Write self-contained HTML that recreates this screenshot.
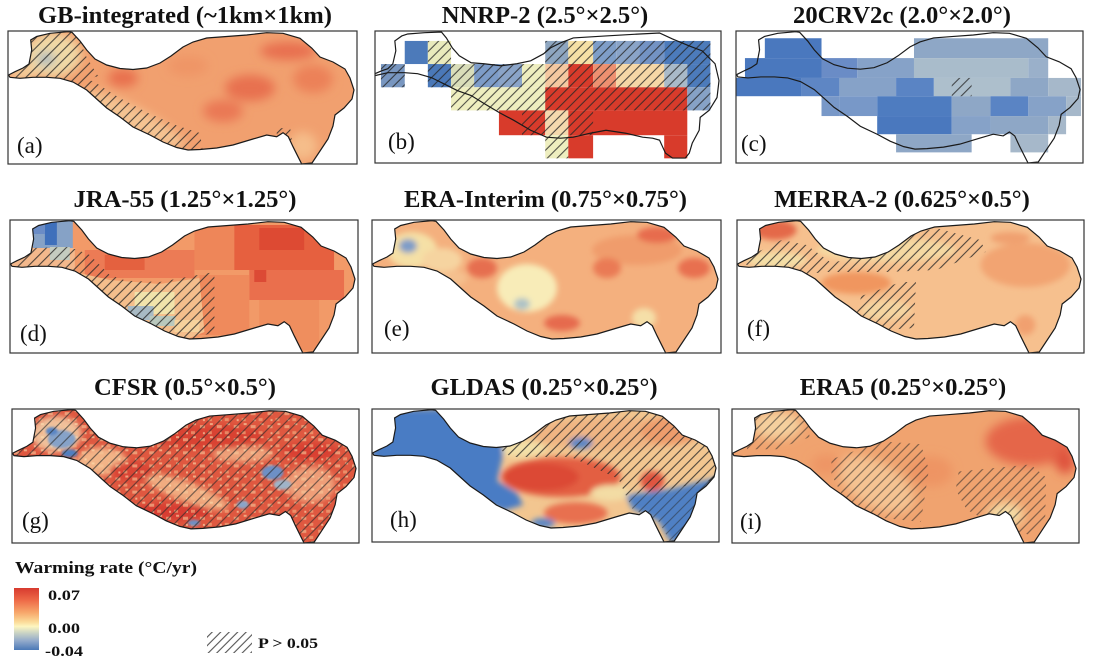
<!DOCTYPE html>
<html><head><meta charset="utf-8">
<style>html,body{margin:0;padding:0;background:#fff;}svg{display:block;}</style>
</head><body>
<svg width="1093" height="666" viewBox="0 0 1093 666" xmlns="http://www.w3.org/2000/svg" xmlns:xlink="http://www.w3.org/1999/xlink">
<defs>
<path id="tp" d="M0.5,44 L7,40.7 L15,37 L21,33 L23.7,19 L22.7,9 L28.7,5.5 L42,2.3 L60,0.7 L64,1.3 L72,10 L78.7,19 L87,28 L98.7,34 L112,37.5 L125,38.5 L138.7,37 L152,32 L163,25 L175,16 L185,11 L198.7,7 L218.7,5.5 L238.7,4 L258.7,1.7 L275,2.3 L292,7.3 L303.7,17 L312,26 L325,31 L337,38 L342,47 L346,59 L344,68 L336,77 L327,84 L325,95 L320,108 L312,120 L304,132 L293.7,133 L290,125.7 L285,115.7 L280.3,105.7 L275,101.7 L268.7,105.7 L258.7,104 L245,108 L225,114 L208.7,117 L192,118.5 L180,119 L168.7,116.5 L155,111 L142,104 L125,96 L112,86 L98.7,77 L88.7,68 L78.7,59 L65,51 L52,47.3 L38.7,46.3 L25,46.3 L12,47.3 L2,46.3 Z"/>
<path id="tpb" d="M0,43 L7,40 L13,38 L18,33 L21,20 L20,10 L27,5 L33,3 L50,1.7 L67,1 L72,7 L78,17 L85,25 L97,32 L110,33 L127,35 L143,33 L157,30 L170,23 L177,17 L187,12 L200,7 L233,5 L267,3 L287,2 L300,8 L317,15 L330,20 L337,27 L343,33 L347,50 L345,67 L337,80 L328,87 L327,100 L320,113 L317,123 L313,128 L300,128 L293,123 L287,110 L280,108 L270,107 L253,103 L233,100 L217,103 L200,107 L187,108 L173,107 L157,100 L140,90 L125,82 L110,73 L97,65 L83,60 L73,55 L57,47 L43,43 L30,42 L13,42 L0,45 Z"/>
<clipPath id="cl"><use href="#tp" xlink:href="#tp"/></clipPath>
<clipPath id="boxc"><rect x="0" y="0" width="349" height="133"/></clipPath>
<pattern id="hatch" patternUnits="userSpaceOnUse" width="7" height="7" patternTransform="rotate(45)">
<line x1="3.5" y1="0" x2="3.5" y2="7" stroke="#262626" stroke-width="1.1" stroke-opacity="0.8"/>
</pattern>
<pattern id="hatchG" patternUnits="userSpaceOnUse" width="8" height="8" patternTransform="rotate(45)">
<line x1="4" y1="0" x2="4" y2="8" stroke="#2a2a2a" stroke-width="1" stroke-opacity="0.75"/>
</pattern>
<pattern id="hatchL" patternUnits="userSpaceOnUse" width="6" height="6" patternTransform="rotate(45)">
<line x1="3" y1="0" x2="3" y2="6" stroke="#555" stroke-width="1.1"/>
</pattern>
<pattern id="spk" patternUnits="userSpaceOnUse" width="17" height="13">
<rect x="2" y="3" width="5" height="3" fill="#f6c89a"/>
<rect x="10" y="9" width="4" height="3" fill="#f3b585"/>
<rect x="12" y="1" width="3" height="2" fill="#fbe0b0"/>
<rect x="5" y="10" width="2" height="2" fill="#fbe6b8"/>
</pattern>
<filter id="bl" x="-30%" y="-30%" width="160%" height="160%"><feGaussianBlur stdDeviation="5"/></filter>
<filter id="bl3" x="-30%" y="-30%" width="160%" height="160%"><feGaussianBlur stdDeviation="3"/></filter>
<filter id="bl1" x="-30%" y="-30%" width="160%" height="160%"><feGaussianBlur stdDeviation="1.2"/></filter>
<linearGradient id="cb" x1="0" y1="0" x2="0" y2="1">
<stop offset="0" stop-color="#d73a2f"/>
<stop offset="0.2" stop-color="#ee6a48"/>
<stop offset="0.4" stop-color="#f7a86c"/>
<stop offset="0.55" stop-color="#fbdc9a"/>
<stop offset="0.62" stop-color="#fdf6c0"/>
<stop offset="0.72" stop-color="#ccd5c4"/>
<stop offset="0.85" stop-color="#93abcb"/>
<stop offset="1" stop-color="#4b79b7"/>
</linearGradient>
</defs>

<rect x="0" y="0" width="1093" height="666" fill="#fff"/>

<!-- Titles -->
<g font-family="'Liberation Serif', serif" font-weight="bold" font-size="24.6" text-anchor="middle" fill="#111">
<text x="185" y="23">GB-integrated (~1km×1km)</text>
<text x="545" y="23">NNRP-2 (2.5°×2.5°)</text>
<text x="902" y="23">20CRV2c (2.0°×2.0°)</text>
<text x="185" y="207">JRA-55 (1.25°×1.25°)</text>
<text x="545.5" y="207">ERA-Interim (0.75°×0.75°)</text>
<text x="902" y="207">MERRA-2 (0.625°×0.5°)</text>
<text x="185" y="395">CFSR (0.5°×0.5°)</text>
<text x="544" y="395">GLDAS (0.25°×0.25°)</text>
<text x="903" y="395">ERA5 (0.25°×0.25°)</text>
</g>

<!-- Panel a -->
<g transform="translate(8,31)">
<g clip-path="url(#cl)">
<rect x="0" y="0" width="349" height="133" fill="#f1a06f"/>
<g filter="url(#bl)">
<ellipse cx="45" cy="24" rx="28" ry="22" fill="#f0d9a6"/>
<ellipse cx="15" cy="42" rx="14" ry="6" fill="#f3d3a0"/>
<ellipse cx="38" cy="28" rx="9" ry="7" fill="#a9b9bf"/>
<ellipse cx="125" cy="88" rx="58" ry="12" transform="rotate(28 125 88)" fill="#f5c493"/>
<ellipse cx="115" cy="47" rx="15" ry="9" fill="#e8704e"/>
<ellipse cx="242" cy="57" rx="25" ry="13" fill="#e8714f"/>
<ellipse cx="215" cy="80" rx="20" ry="11" fill="#ea7854"/>
<ellipse cx="280" cy="20" rx="28" ry="9" fill="#e86f4f"/>
<ellipse cx="305" cy="48" rx="20" ry="14" fill="#ec8158"/>
<ellipse cx="180" cy="35" rx="20" ry="10" fill="#ef9566"/>
<ellipse cx="295" cy="115" rx="14" ry="14" fill="#f5bd8a"/>
</g>
<path d="M0,48 L0,40 L20,30 L22,0 L68,0 L78,25 L90,45 L70,52 L40,50 Z M62,48 L85,50 L110,66 L140,82 L170,95 L192,102 L195,122 L150,118 L100,88 L70,62 Z M268,98 L282,96 L284,110 L270,110 Z" fill="url(#hatch)"/>
</g>
<use href="#tp" xlink:href="#tp" fill="none" stroke="#1a1a1a" stroke-width="1.2"/>
</g>

<!-- Panel b -->
<g transform="translate(375,31) scale(0.9914,0.9925)">
<g clip-path="url(#boxc)">
<rect x="30" y="10" width="23.3" height="23.3" fill="#4c7aba"/>
<rect x="53.3" y="10" width="23.4" height="23.3" fill="#e9eabc"/>
<rect x="171.7" y="10" width="23.3" height="23.3" fill="#8ea6c0"/>
<rect x="195" y="10" width="25" height="23.3" fill="#f5e0a5"/>
<rect x="220" y="10" width="23.3" height="23.3" fill="#7f9ec8"/>
<rect x="243.3" y="10" width="23.4" height="23.3" fill="#8aa4c8"/>
<rect x="266.7" y="10" width="25" height="23.3" fill="#7393c4"/>
<rect x="291.7" y="10" width="46.6" height="23.3" fill="#4c7bbb"/>
<rect x="6" y="33.3" width="24" height="23.4" fill="#7896c0"/>
<rect x="53.3" y="33.3" width="23.4" height="23.4" fill="#4a78b8"/>
<rect x="76.7" y="33.3" width="23.3" height="23.4" fill="#d9ddb9"/>
<rect x="100" y="33.3" width="25" height="23.4" fill="#7d9cc8"/>
<rect x="125" y="33.3" width="23.3" height="23.4" fill="#8aa4c8"/>
<rect x="148.3" y="33.3" width="23.4" height="23.4" fill="#eeeebf"/>
<rect x="171.7" y="33.3" width="23.3" height="23.4" fill="#f5c8a0"/>
<rect x="195" y="33.3" width="25" height="23.4" fill="#d83b2b"/>
<rect x="220" y="33.3" width="23.3" height="23.4" fill="#ee9070"/>
<rect x="243.3" y="33.3" width="48.4" height="23.4" fill="#f6d7a6"/>
<rect x="291.7" y="33.3" width="23.3" height="23.4" fill="#a9bac8"/>
<rect x="315" y="33.3" width="23.3" height="23.4" fill="#4c7bbb"/>
<rect x="76.7" y="56.7" width="95" height="23.3" fill="#eeeebf"/>
<rect x="171.7" y="56.7" width="143.3" height="23.3" fill="#d83b2b"/>
<rect x="315" y="56.7" width="23.3" height="23.3" fill="#86a2c6"/>
<rect x="125" y="80" width="46.7" height="25" fill="#d83b2b"/>
<rect x="171.7" y="80" width="23.3" height="25" fill="#f5d9ae"/>
<rect x="195" y="80" width="120" height="25" fill="#d83b2b"/>
<rect x="171.7" y="105" width="23.3" height="23.3" fill="#eeeebf"/>
<rect x="195" y="105" width="25" height="23.3" fill="#d83b2b"/>
<rect x="291.7" y="105" width="23.3" height="23.3" fill="#d83b2b"/>
<rect x="53.3" y="10" width="23.4" height="23.3" fill="url(#hatch)"/>
<rect x="171.7" y="10" width="166.6" height="23.3" fill="url(#hatch)"/>
<rect x="6" y="33.3" width="24" height="23.4" fill="url(#hatch)"/>
<rect x="53.3" y="33.3" width="285" height="23.4" fill="url(#hatch)"/>
<rect x="76.7" y="56.7" width="261.6" height="23.3" fill="url(#hatch)"/>
<rect x="148.3" y="80" width="71.7" height="25" fill="url(#hatch)"/>
<rect x="171.7" y="105" width="23.3" height="23.3" fill="url(#hatch)"/>
<use href="#tpb" xlink:href="#tpb" fill="none" stroke="#1a1a1a" stroke-width="1.2"/>
</g>
</g>

<!-- Panel c -->
<g transform="translate(736,31) scale(0.9943,0.9925)">
<g clip-path="url(#boxc)">
<rect x="29" y="7.3" width="57" height="20" fill="#4a78be"/>
<rect x="179" y="7.3" width="135" height="20" fill="#8ea7c6"/>
<rect x="9" y="27.3" width="77" height="20" fill="#4a78be"/>
<rect x="86" y="27.3" width="36" height="20" fill="#6a8cc6"/>
<rect x="122" y="27.3" width="57" height="20" fill="#86a2c8"/>
<rect x="179" y="27.3" width="115" height="20" fill="#a9bccb"/>
<rect x="294" y="27.3" width="20" height="20" fill="#9ab0ca"/>
<rect x="0" y="47.3" width="66" height="18.4" fill="#4a78be"/>
<rect x="66" y="47.3" width="38" height="18.4" fill="#5e86c4"/>
<rect x="104" y="47.3" width="57" height="18.4" fill="#86a2c8"/>
<rect x="161" y="47.3" width="38" height="18.4" fill="#5a84c4"/>
<rect x="199" y="47.3" width="77" height="18.4" fill="#adbfcc"/>
<rect x="276" y="47.3" width="38" height="18.4" fill="#8ea7c6"/>
<rect x="314" y="47.3" width="33" height="18.4" fill="#a6b8ca"/>
<rect x="86" y="65.7" width="18" height="20" fill="#7898c8"/>
<rect x="104" y="65.7" width="38" height="20" fill="#7898c8"/>
<rect x="142" y="65.7" width="75" height="20" fill="#4e7cc0"/>
<rect x="217" y="65.7" width="39" height="20" fill="#8ea7c6"/>
<rect x="256" y="65.7" width="38" height="20" fill="#5a84c4"/>
<rect x="294" y="65.7" width="38" height="20" fill="#86a2c8"/>
<rect x="332" y="65.7" width="15" height="20" fill="#a6b8ca"/>
<rect x="142" y="85.7" width="75" height="18.3" fill="#4a78be"/>
<rect x="217" y="85.7" width="39" height="18.3" fill="#86a2c8"/>
<rect x="256" y="85.7" width="58" height="18.3" fill="#8ea7c6"/>
<rect x="314" y="85.7" width="18" height="18.3" fill="#a6b8ca"/>
<rect x="161" y="104" width="76" height="18.3" fill="#8ea7c6"/>
<rect x="276" y="104" width="38" height="18.3" fill="#a6b8ca"/>
<rect x="217" y="47.3" width="20" height="18.4" fill="url(#hatch)"/>
</g>
<use href="#tp" xlink:href="#tp" fill="none" stroke="#1a1a1a" stroke-width="1.2"/>
</g>

<!-- Panel d -->
<g transform="translate(10,220) scale(0.9971,1)">
<g clip-path="url(#cl)">
<rect x="0" y="0" width="349" height="133" fill="#f29a68"/>
<rect x="23" y="0" width="40" height="28" fill="#86a2c6"/>
<rect x="35" y="0" width="12" height="25" fill="#3f70bb"/>
<rect x="23" y="0" width="12" height="14" fill="#6a8cc6"/>
<rect x="0" y="28" width="65" height="22" fill="#f3b88c"/>
<rect x="40" y="27" width="20" height="13" fill="#c4ccc0"/>
<rect x="75" y="30" width="110" height="28" fill="#ec7b55"/>
<rect x="95" y="35" width="40" height="15" fill="#e4613f"/>
<rect x="185" y="5" width="50" height="45" fill="#ee8659"/>
<rect x="225" y="5" width="100" height="45" fill="#e6603f"/>
<rect x="250" y="8" width="45" height="22" fill="#dd4a33"/>
<rect x="240" y="50" width="95" height="30" fill="#ea6f4d"/>
<rect x="245" y="50" width="12" height="12" fill="#dc4a35"/>
<rect x="190" y="55" width="50" height="60" fill="#ef8a5c"/>
<rect x="250" y="80" width="60" height="50" fill="#ef8e5e"/>
<path d="M65,52 L100,60 L150,64 L190,58 L195,112 L175,120 L140,106 L100,86 L65,62 Z" fill="#f4be8c"/>
<rect x="125" y="72" width="40" height="22" fill="#f1e3ab"/>
<rect x="118" y="86" width="26" height="14" fill="#a8bac4"/>
<rect x="140" y="96" width="26" height="10" fill="#b9c8bd"/>
<rect x="165" y="100" width="25" height="12" fill="#f6d29c"/>
<path d="M0,45 L20,28 L60,27 L80,35 L100,55 L120,62 L100,62 L65,55 L20,50 Z M65,52 L100,60 L150,62 L205,52 L205,112 L180,120 L140,106 L100,86 L65,62 Z" fill="url(#hatch)"/>
</g>
<use href="#tp" xlink:href="#tp" fill="none" stroke="#1a1a1a" stroke-width="1.2"/>
</g>

<!-- Panel e -->
<g transform="translate(372,220)">
<g clip-path="url(#cl)">
<rect x="0" y="0" width="349" height="133" fill="#f4b07e"/>
<g filter="url(#bl3)">
<ellipse cx="40" cy="30" rx="25" ry="18" fill="#f5e0a6"/>
<ellipse cx="70" cy="40" rx="20" ry="12" fill="#f6d4a0"/>
<ellipse cx="36" cy="26" rx="9" ry="7" fill="#7e9cc8"/>
<ellipse cx="155" cy="68" rx="30" ry="24" fill="#f8ecb8"/>
<ellipse cx="150" cy="84" rx="8" ry="6" fill="#adc2c6"/>
<ellipse cx="110" cy="48" rx="15" ry="10" fill="#e66e50"/>
<ellipse cx="190" cy="103" rx="18" ry="8" fill="#e66a4e"/>
<ellipse cx="265" cy="30" rx="45" ry="15" fill="#f09c6c"/>
<ellipse cx="285" cy="15" rx="20" ry="8" fill="#e76c4e"/>
<ellipse cx="322" cy="48" rx="16" ry="10" fill="#e86f50"/>
<ellipse cx="235" cy="48" rx="14" ry="10" fill="#ea7a55"/>
<ellipse cx="272" cy="98" rx="12" ry="10" fill="#f5dfa8"/>
<ellipse cx="80" cy="58" rx="15" ry="8" fill="#f5c08e"/>
</g>
</g>
<use href="#tp" xlink:href="#tp" fill="none" stroke="#1a1a1a" stroke-width="1.2"/>
</g>

<!-- Panel f -->
<g transform="translate(737,220) scale(0.9943,1)">
<g clip-path="url(#cl)">
<rect x="0" y="0" width="349" height="133" fill="#f6c08e"/>
<g filter="url(#bl3)">
<ellipse cx="150" cy="30" rx="70" ry="12" fill="#f5d9a2"/>
<ellipse cx="40" cy="40" rx="30" ry="8" fill="#f4dea6"/>
<ellipse cx="150" cy="90" rx="25" ry="10" fill="#f5d5a0"/>
<ellipse cx="38" cy="10" rx="22" ry="10" fill="#e4694a"/>
<ellipse cx="120" cy="63" rx="35" ry="11" fill="#f0965f"/>
<ellipse cx="290" cy="45" rx="45" ry="22" fill="#f2a472"/>
<ellipse cx="275" cy="18" rx="20" ry="6" fill="#f0a070"/>
<ellipse cx="290" cy="105" rx="10" ry="10" fill="#f1a070"/>
</g>
<path d="M0,40 L25,30 L45,20 L70,25 L95,43 L150,30 L175,15 L200,8 L245,20 L250,32 L200,50 L150,52 L90,52 L60,55 L20,50 Z M125,76 L165,62 L180,62 L178,108 L150,110 L120,95 Z" fill="url(#hatch)"/>
</g>
<use href="#tp" xlink:href="#tp" fill="none" stroke="#1a1a1a" stroke-width="1.2"/>
</g>

<!-- Panel g -->
<g transform="translate(12,409) scale(0.9943,1.0075)">
<g clip-path="url(#cl)">
<rect x="0" y="0" width="349" height="133" fill="#df5840"/>
<g filter="url(#bl3)">
<ellipse cx="45" cy="25" rx="25" ry="18" fill="#f0c09a"/>
<ellipse cx="90" cy="52" rx="25" ry="14" fill="#f3b487"/>
<ellipse cx="175" cy="82" rx="45" ry="10" transform="rotate(20 175 82)" fill="#f1ac80"/>
<ellipse cx="232" cy="45" rx="30" ry="8" fill="#efa27a"/>
<ellipse cx="300" cy="75" rx="25" ry="18" fill="#ef9e78"/>
<ellipse cx="200" cy="28" rx="55" ry="12" fill="#d94232"/>
<ellipse cx="160" cy="102" rx="40" ry="9" fill="#d83d30"/>
<ellipse cx="300" cy="42" rx="28" ry="9" fill="#d94133"/>
<ellipse cx="120" cy="62" rx="22" ry="10" fill="#da4534"/>
</g>
<rect x="0" y="0" width="349" height="133" fill="url(#spk)" opacity="0.6"/>
<g filter="url(#bl1)">
<ellipse cx="50" cy="30" rx="14" ry="9" fill="#86a2c8"/>
<ellipse cx="58" cy="44" rx="8" ry="4" fill="#4f7fc0"/>
<ellipse cx="40" cy="22" rx="6" ry="4" fill="#5a86c4"/>
<ellipse cx="262" cy="63" rx="11" ry="7" fill="#6d90c6"/>
<ellipse cx="272" cy="75" rx="9" ry="5" fill="#9fb4c8"/>
<ellipse cx="183" cy="113" rx="6" ry="3" fill="#6d90c6"/>
<ellipse cx="232" cy="95" rx="6" ry="4" fill="#8aa4c8"/>
</g>
<rect x="0" y="0" width="349" height="133" fill="url(#hatchG)"/>
</g>
<use href="#tp" xlink:href="#tp" fill="none" stroke="#1a1a1a" stroke-width="1.2"/>
</g>

<!-- Panel h -->
<g transform="translate(372,409) scale(0.9943,1)">
<g clip-path="url(#cl)">
<rect x="0" y="0" width="349" height="133" fill="#f2c690"/>
<g filter="url(#bl3)">
<ellipse cx="240" cy="25" rx="80" ry="16" fill="#f0b583"/>
<ellipse cx="300" cy="22" rx="30" ry="14" fill="#ee9d6c"/>
<ellipse cx="190" cy="68" rx="60" ry="20" fill="#e35f43"/>
<ellipse cx="170" cy="68" rx="38" ry="14" fill="#dc4a36"/>
<ellipse cx="282" cy="72" rx="12" ry="10" fill="#df5540"/>
<ellipse cx="205" cy="104" rx="32" ry="11" fill="#e8704f"/>
<ellipse cx="240" cy="84" rx="20" ry="8" fill="#f3dca4"/>
<ellipse cx="150" cy="40" rx="25" ry="8" fill="#f3e0a8"/>
<path d="M0,0 L128,0 L132,45 L126,72 L146,84 L152,96 L132,102 L110,92 L80,70 L0,60 Z" fill="#4a7bc4"/>
<path d="M255,86 L300,80 L349,68 L349,133 L300,133 L288,112 L262,100 Z" fill="#4f80c4"/>
<ellipse cx="210" cy="34" rx="12" ry="6" fill="#5a86c4"/>
<ellipse cx="172" cy="114" rx="12" ry="5" fill="#5a86c4"/>
</g>
<path d="M128,0 L349,0 L349,70 L300,80 L255,86 L248,70 L200,48 L140,48 L128,40 Z" fill="url(#hatch)"/>
<path d="M255,86 L300,80 L349,68 L349,133 L300,133 L288,112 L262,100 Z" fill="url(#hatch)" opacity="0.6"/>
</g>
<use href="#tp" xlink:href="#tp" fill="none" stroke="#1a1a1a" stroke-width="1.2"/>
</g>

<!-- Panel i -->
<g transform="translate(732,409) scale(0.9943,1.0075)">
<g clip-path="url(#cl)">
<rect x="0" y="0" width="349" height="133" fill="#f0a36f"/>
<g filter="url(#bl)">
<ellipse cx="300" cy="32" rx="45" ry="24" fill="#e5664a"/>
<ellipse cx="335" cy="52" rx="10" ry="12" fill="#df523d"/>
<ellipse cx="45" cy="16" rx="25" ry="14" fill="#f5d09e"/>
<ellipse cx="145" cy="75" rx="42" ry="22" transform="rotate(30 145 75)" fill="#f5c392"/>
<ellipse cx="275" cy="105" rx="18" ry="12" fill="#f4dba5"/>
<ellipse cx="200" cy="62" rx="22" ry="15" fill="#ee9463"/>
<ellipse cx="95" cy="55" rx="15" ry="10" fill="#ee9565"/>
</g>
<path d="M15,40 L22,0 L75,0 L78,28 L45,40 Z M100,50 L150,32 L190,35 L198,60 L190,112 L150,108 L112,88 L100,65 Z M228,62 L300,55 L316,68 L315,108 L300,125 L270,118 L236,100 L225,80 Z" fill="url(#hatch)" opacity="0.75"/>
</g>
<use href="#tp" xlink:href="#tp" fill="none" stroke="#1a1a1a" stroke-width="1.2"/>
</g>

<!-- Boxes -->
<g fill="none" stroke="#333" stroke-width="1.2">
<rect x="8" y="31" width="349" height="133"/>
<rect x="375" y="31" width="346" height="132"/>
<rect x="736" y="31" width="347" height="132"/>
<rect x="10" y="220" width="348" height="133"/>
<rect x="372" y="220" width="349" height="133"/>
<rect x="737" y="220" width="347" height="133"/>
<rect x="12" y="409" width="347" height="134"/>
<rect x="372" y="409" width="347" height="133"/>
<rect x="732" y="409" width="347" height="134"/>
</g>

<!-- Panel labels -->
<g font-family="'Liberation Serif', serif" font-size="23" fill="#111">
<text x="17" y="153">(a)</text>
<text x="388" y="149">(b)</text>
<text x="741" y="151">(c)</text>
<text x="20" y="341">(d)</text>
<text x="384" y="336">(e)</text>
<text x="747" y="336">(f)</text>
<text x="22" y="528">(g)</text>
<text x="390" y="527">(h)</text>
<text x="740" y="529">(i)</text>
</g>

<!-- Legend -->
<g font-family="'Liberation Serif', serif" font-weight="bold" fill="#111">
<text x="15" y="573" font-size="17" textLength="182" lengthAdjust="spacingAndGlyphs">Warming rate (°C/yr)</text>
<text x="48" y="600" font-size="15" textLength="32" lengthAdjust="spacingAndGlyphs">0.07</text>
<text x="48" y="633" font-size="15" textLength="32" lengthAdjust="spacingAndGlyphs">0.00</text>
<text x="45" y="656" font-size="15" textLength="38" lengthAdjust="spacingAndGlyphs">-0.04</text>
<text x="258" y="648" font-size="15" textLength="60" lengthAdjust="spacingAndGlyphs">P &gt; 0.05</text>
</g>
<rect x="14" y="588" width="25" height="62" fill="url(#cb)"/>
<rect x="207" y="632" width="45" height="21" fill="url(#hatchL)"/>
</svg>
</body></html>
